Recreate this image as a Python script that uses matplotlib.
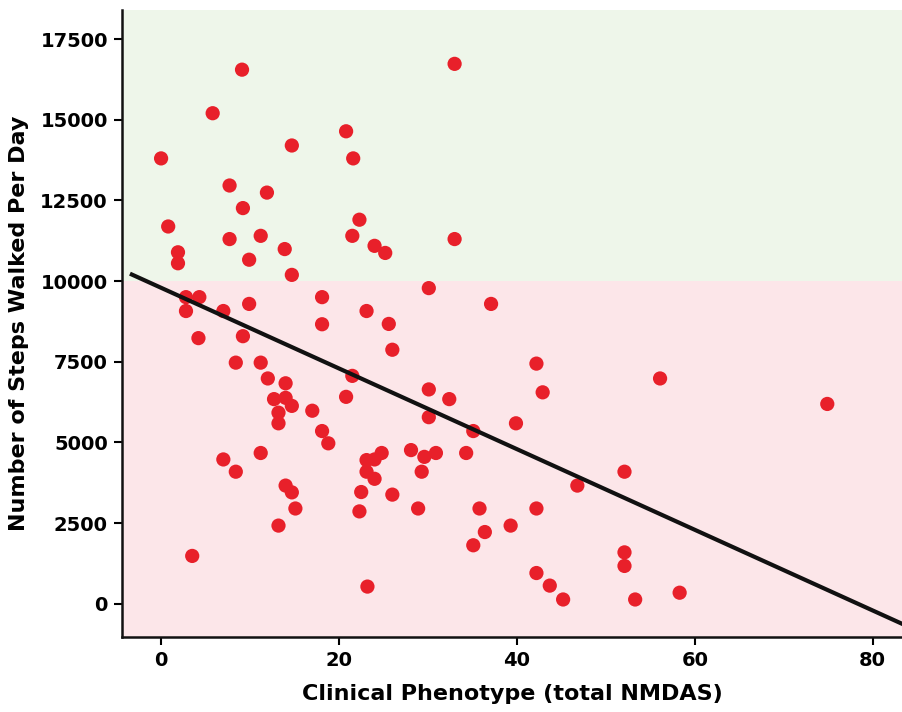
import numpy as np
import matplotlib.pyplot as plt

# NMDAS score vs mean daily steps
nmdas = [9.1, 5.8, 0.0, 14.7, 20.8, 21.6, 7.7, 11.9, 9.2, 0.8,
         22.3, 7.7, 11.2, 21.5, 24.0, 25.2, 13.9, 1.9, 1.9, 9.9,
         14.7, 33.0, 33.0, 30.1, 18.1, 2.8, 4.3, 2.8, 7.0, 9.9,
         23.1, 37.1, 18.1, 25.6, 4.2, 9.2, 26.0, 8.4, 11.2, 12.0,
         14.0, 21.5, 30.1, 32.4, 39.9, 12.7, 14.0, 14.7, 13.2, 13.2,
         17.0, 20.8, 30.1, 35.1, 18.1, 18.8, 11.2, 7.0, 8.4, 23.1,
         24.0, 24.8, 23.1, 24.0, 28.1, 29.6, 30.9, 29.3, 34.3, 14.0,
         14.7, 15.1, 13.2, 22.5, 26.0, 22.3, 28.9, 35.8, 36.4, 35.1,
         39.3, 3.5, 23.2, 42.2, 56.1, 42.9, 74.9, 46.8, 52.1, 42.2,
         52.1, 52.1, 42.2, 43.7, 45.2, 53.3, 58.3]
steps = [16550, 15200, 13800, 14200, 14640, 13800, 12960, 12740, 12260, 11690,
         11900, 11300, 11400, 11400, 11090, 10870, 10990, 10890, 10550, 10660,
         10190, 16730, 11300, 9780, 9500, 9500, 9500, 9070, 9070, 9290,
         9070, 9290, 8660, 8670, 8230, 8290, 7870, 7470, 7470, 6980,
         6830, 7060, 6640, 6340, 5590, 6340, 6380, 6130, 5920, 5590,
         5980, 6410, 5780, 5350, 5350, 4970, 4670, 4470, 4090, 4450,
         4470, 4670, 4090, 3870, 4760, 4550, 4670, 4090, 4670, 3660,
         3450, 2950, 2420, 3460, 3380, 2860, 2950, 2950, 2220, 1810,
         2420, 1480, 530, 7440, 6980, 6550, 6190, 3660, 4090, 2950,
         1590, 1170, 950, 560, 130, 130, 340]

# regression line as drawn
fit_intercept = 9790
fit_slope = -125
fit_x = [-3.5, 84]

threshold = 10000
yticks = [0, 2500, 5000, 7500, 10000, 12500, 15000, 17500]
xticks = [0, 20, 40, 60, 80]

fig = plt.figure(figsize=(9.02, 7.12), dpi=100)
ax = fig.add_axes([0.135, 0.105, 0.865, 0.881])

xlo, xhi = -4.42, 83.3
ylo, yhi = -1040, 18400
ax.set_xlim(xlo, xhi)
ax.set_ylim(ylo, yhi)

ax.axhspan(threshold, yhi, color='#eef6ea', zorder=0, lw=0)
ax.axhspan(ylo, threshold, color='#fce6e9', zorder=0, lw=0)

ax.scatter(nmdas, steps, s=105, color='#e8202a', edgecolors='none', zorder=3)

fx = np.array(fit_x)
ax.plot(fx, fit_intercept + fit_slope * fx, color='#111111', lw=3.0, zorder=4,
        solid_capstyle='butt')

for s in ['top', 'right']:
    ax.spines[s].set_visible(False)
for s in ['left', 'bottom']:
    ax.spines[s].set_linewidth(1.8)
    ax.spines[s].set_color('#111111')

ax.set_xticks(xticks)
ax.set_yticks(yticks)
ax.tick_params(axis='both', direction='out', length=6, width=1.5,
               labelsize=14, pad=4)
for lab in ax.get_xticklabels() + ax.get_yticklabels():
    lab.set_fontweight('bold')

ax.set_xlabel('Clinical Phenotype (total NMDAS)', fontsize=16, fontweight='bold',
              labelpad=10)
ax.set_ylabel('Number of Steps Walked Per Day', fontsize=16, fontweight='bold',
              labelpad=8)

fig.savefig('out.png', dpi=100)
